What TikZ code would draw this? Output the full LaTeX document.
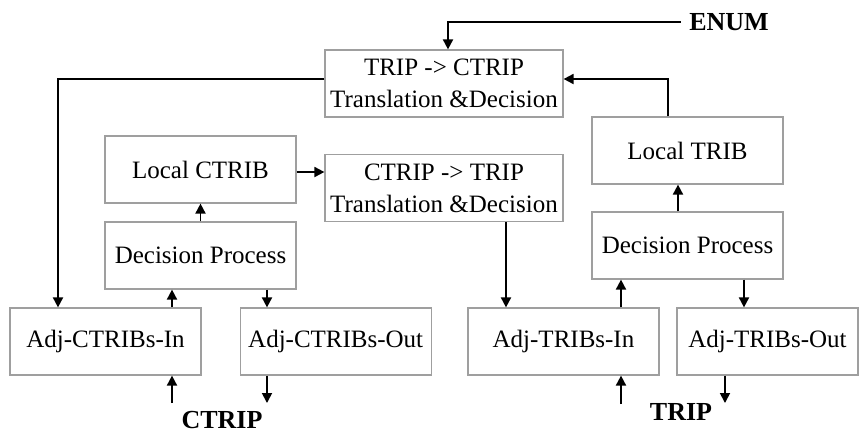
\documentclass[tikz,border=0pt]{standalone}
\usepackage{fontspec}
\setmainfont{Liberation Serif}
\usepackage{tikz}
\usetikzlibrary{arrows.meta, positioning, calc}

\begin{document}
\begin{tikzpicture}[
    x=0.5pt, y=-0.5pt,
    block/.style={rectangle, draw=gray!75, line width=0.6pt, minimum width=95.5pt, minimum height=33.5pt, inner sep=0pt, align=center, font=\fontsize{12.5}{16}\selectfont},
    wide/.style={block, minimum width=119pt},
    io/.style={font=\fontsize{13}{15}\selectfont\bfseries, inner sep=1pt},
    arrow/.style={-{Triangle[length=5pt, width=5pt]}, line width=0.9pt},
    line/.style={line width=0.9pt}
]
\useasboundingbox (0,0) rectangle (859,436);

% Translation boxes (middle)
\node[wide] (trip2ctrip) at (444, 83.5) {TRIP -> CTRIP\\Translation \&Decision};
\node[wide] (ctrip2trip) at (444, 188) {CTRIP -> TRIP\\Translation \&Decision};

% CTRIB side (left)
\node[block] (lctrib) at (200.5, 169.5) {Local CTRIB};
\node[block] (cdecide) at (200.5, 255.5) {Decision Process};
\node[block] (cin) at (105.5, 341.5) {Adj-CTRIBs-In};
\node[block, right=19pt of cin] (cout) {Adj-CTRIBs-Out};

% TRIB side (right)
\node[block] (ltrib) at (687.5, 150.5) {Local TRIB};
\node[block] (tdecide) at (687.5, 245.5) {Decision Process};
\node[block] (tin) at (563.5, 341.5) {Adj-TRIBs-In};
\node[block, minimum width=90.5pt] (tout) at (767.5, 341.5) {Adj-TRIBs-Out};

% External inputs / outputs
\node[io, inner sep=4pt] (enum) at (729, 22) {ENUM};
\node[io] (ctrip) at (222, 420) {CTRIP};
\node[io] (trip) at (681, 412) {TRIP};
\coordinate (cup) at (172, 403);
\coordinate (cdown) at (267, 403);
\coordinate (tup) at (621, 404);
\coordinate (tdown) at (725, 403);

% Arrows - top loop
\draw[arrow] (enum.west) -| (trip2ctrip.north -| 448,0);
\draw[arrow] (trip2ctrip.west |- 0,79) -| (cin.north -| 58,0);
\draw[arrow] (ltrib.north -| 668,0) |- (trip2ctrip.east |- 0,79);

% Arrows - CTRIB side
\draw[arrow] (lctrib.east |- 0,172) -- (ctrip2trip.west |- 0,172);
\draw[arrow] (cdecide.north) -- (lctrib.south);
\draw[arrow] (cin.north -| cup) -- (cdecide.south -| cup);
\draw[arrow] (cdecide.south -| cdown) -- (cout.north -| cdown);
\draw[arrow] (cup) -- (cin.south -| cup);
\draw[arrow] (cout.south -| cdown) -- (cdown);

% Arrows - TRIB side
\draw[arrow] (ctrip2trip.south -| 506,0) -- (tin.north -| 506,0);
\draw[arrow] (tin.north -| tup) -- (tdecide.south -| tup);
\draw[arrow] (tdecide.south -| 744,0) -- (tout.north -| 744,0);
\draw[arrow] (tdecide.north -| 678,0) -- (ltrib.south -| 678,0);
\draw[arrow] (tup) -- (tin.south -| tup);
\draw[arrow] (tout.south -| tdown) -- (tdown);

\end{tikzpicture}
\end{document}
